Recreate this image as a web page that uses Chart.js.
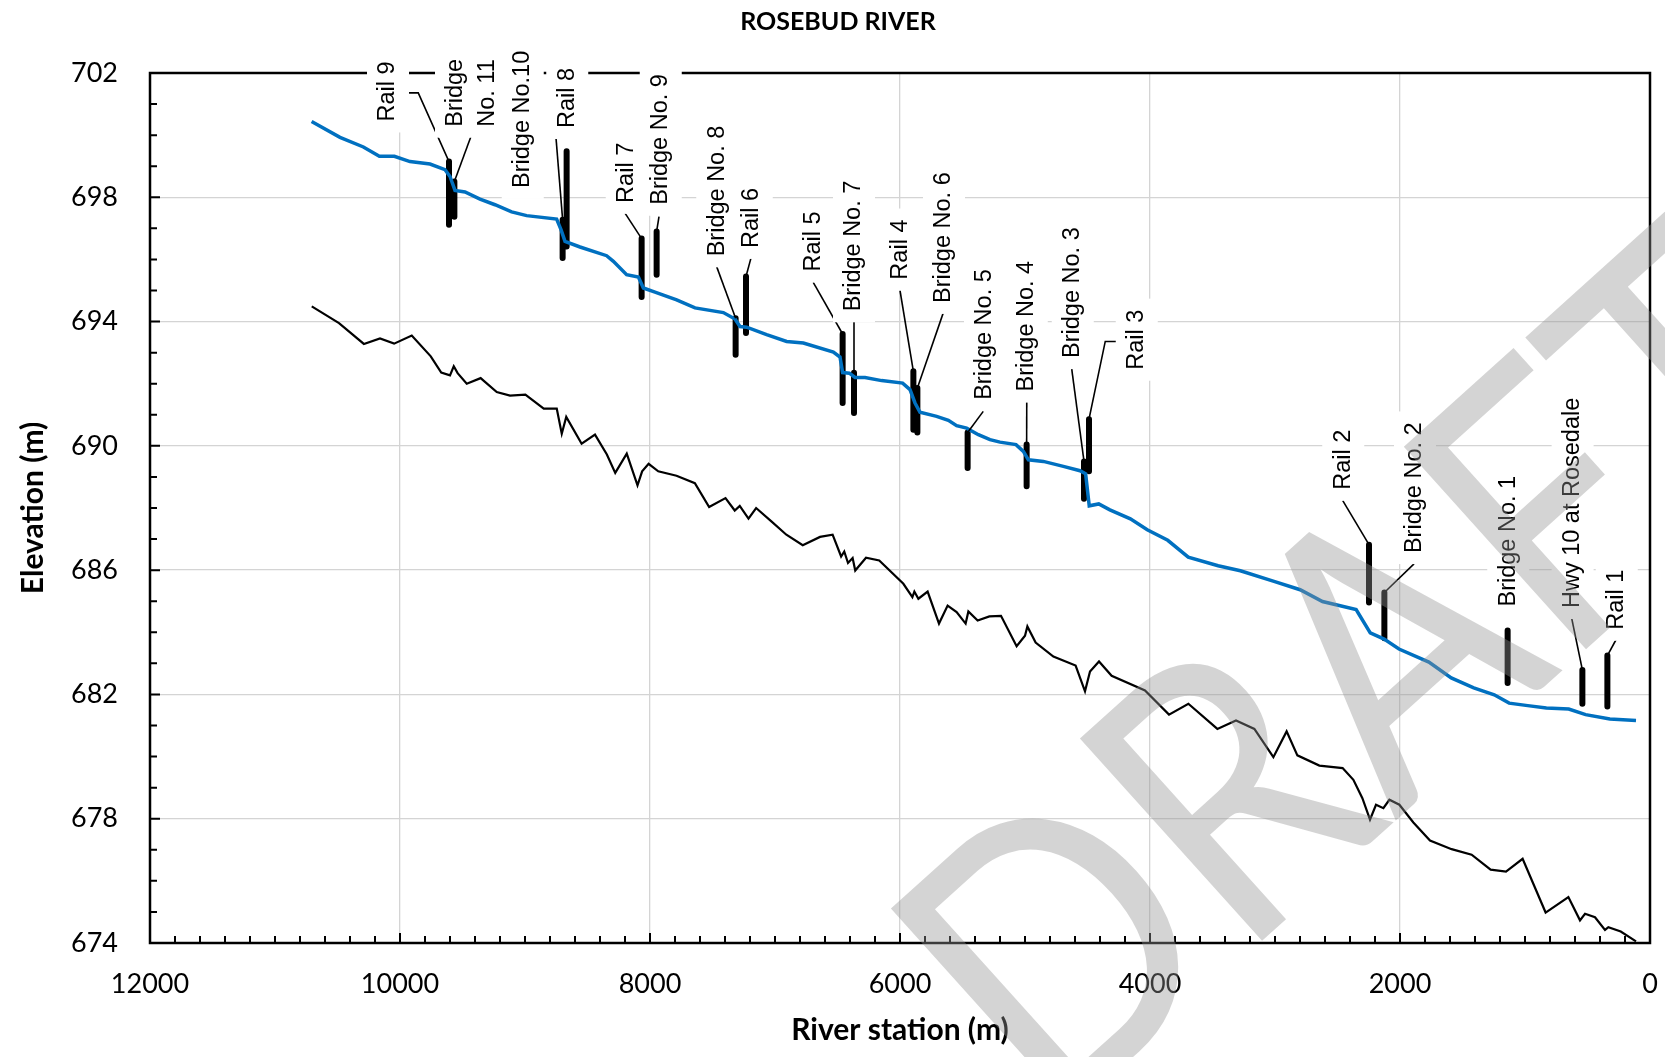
<!DOCTYPE html>
<html>
<head>
<meta charset="utf-8">
<script src="https://cdn.jsdelivr.net/npm/chart.js@4/dist/chart.umd.min.js"></script>
<style>
  html, body { margin: 0; padding: 0; background: #fff; }
  #wrap { width: 1665px; height: 1057px; }
</style>
</head>
<body>
<div id="wrap"><canvas id="profileChart" width="1665" height="1057"></canvas></div>
<script>
// water surface profile (river station m, elevation m)
const wsStation = [10707,10480,10293,10165,10045,9920,9760,9640,9600,9560,9480,9360,9240,9107,8987,8747,8712,8680,8560,8347,8293,8187,8093,8053,7960,7787,7640,7413,7320,7280,7227,7067,6907,6773,6533,6480,6459,6405,6360,6280,6147,5979,5920,5880,5840,5707,5613,5547,5467,5373,5280,5200,5072,5013,4973,4853,4693,4560,4515,4486,4410,4321,4157,4022,3858,3694,3455,3277,3008,2799,2620,2351,2238,2127,2008,1769,1590,1410,1246,1127,978,829,650,515,321,112];
const wsElev = [700.44,699.93,699.62,699.32,699.32,699.15,699.07,698.89,698.67,698.22,698.17,697.94,697.76,697.53,697.41,697.30,696.96,696.58,696.40,696.12,695.94,695.51,695.43,695.08,694.95,694.70,694.44,694.29,694.08,693.84,693.82,693.58,693.36,693.31,693.02,692.86,692.36,692.34,692.20,692.20,692.10,692.02,691.81,691.38,691.08,690.95,690.82,690.65,690.57,690.36,690.20,690.12,690.04,689.82,689.55,689.50,689.34,689.20,689.10,688.07,688.13,687.94,687.65,687.30,686.96,686.42,686.14,685.98,685.64,685.37,684.99,684.73,683.98,683.78,683.46,683.04,682.53,682.21,681.99,681.72,681.64,681.56,681.53,681.35,681.21,681.16];

// channel bed (thalweg)
const bedStation = [10706,10488,10289,10160,10047,9906,9754,9670,9600,9570,9539,9466,9355,9226,9120,8997,8850,8746,8706,8670,8547,8440,8345,8278,8186,8100,8063,8011,7934,7788,7641,7527,7396,7322,7282,7212,7151,7029,6909,6778,6640,6539,6471,6446,6416,6379,6358,6272,6166,5973,5901,5885,5853,5779,5688,5619,5547,5475,5453,5379,5285,5192,5067,5000,4981,4915,4773,4595,4520,4480,4408,4307,4040,3848,3693,3461,3312,3165,3013,2907,2821,2645,2459,2373,2301,2240,2192,2133,2085,2005,1893,1760,1587,1427,1275,1152,1019,835,653,560,520,440,360,333,234,112];
const bedElev = [694.49,693.95,693.28,693.46,693.29,693.55,692.88,692.36,692.27,692.56,692.34,692.00,692.18,691.73,691.62,691.65,691.20,691.20,690.39,690.93,690.07,690.36,689.72,689.13,689.75,688.73,689.18,689.42,689.18,689.04,688.80,688.03,688.32,687.92,688.07,687.66,688.00,687.57,687.14,686.80,687.07,687.14,686.44,686.60,686.23,686.39,685.99,686.40,686.31,685.56,685.13,685.31,685.08,685.31,684.28,684.86,684.65,684.28,684.67,684.38,684.51,684.53,683.55,683.89,684.19,683.67,683.22,682.93,682.10,682.74,683.06,682.60,682.13,681.35,681.70,680.89,681.16,680.89,679.98,680.81,680.04,679.71,679.63,679.25,678.66,677.97,678.45,678.34,678.61,678.45,677.88,677.30,677.02,676.84,676.36,676.30,676.71,674.98,675.48,674.73,674.94,674.83,674.42,674.51,674.37,674.05];

// crossings: name lines, station, bar bottom / top elevation
const structNames = [['Rail 9'],['Bridge','No. 11'],['Bridge No.10'],['Rail 8'],['Rail 7'],['Bridge No. 9'],['Bridge No. 8'],['Rail 6'],['Rail 5'],['Bridge No. 7'],['Rail 4'],['Bridge No. 6'],['Bridge No. 5'],['Bridge No. 4'],['Bridge No. 3'],['Rail 3'],['Rail 2'],['Bridge No. 2'],['Bridge No. 1'],['Hwy 10 at Rosedale'],['Rail 1']];
const structStation = [9608,9565,8667,8699,8067,7947,7315,7232,6459,6368,5893,5861,5459,4987,4528,4488,2248,2125,1139,541,341];
const structLow = [697.12,697.37,696.42,696.05,694.79,695.51,692.93,693.63,691.38,691.06,690.52,690.43,689.29,688.70,688.30,689.18,684.96,683.81,682.37,681.70,681.61];
const structHigh = [699.15,698.51,699.48,697.28,696.67,696.90,694.11,695.45,693.60,692.35,692.40,691.86,690.43,690.04,689.50,690.86,686.82,685.28,684.06,682.79,683.25];

// label anchors (station of label centre, elevation where text starts) and leader bends
const labelStation = [10096,9424,9018,8662,8186,7914,7462,7186,6688,6368,5994,5648,5320,4986,4618,4106,2454,1880,1134,619,266];
const labelElev = [700.44,700.27,698.30,700.23,697.82,697.76,696.10,696.37,695.61,694.33,695.35,694.60,691.48,691.75,692.83,692.45,688.59,686.55,684.83,684.78,684.08];
const leaderPts = [
  [[9936,701.36],[9854,701.36]], [[9434,699.94]], null, [[8752,699.91]], [[8200,697.49]],
  [[7928,697.38]], [[7466,695.76]], [[7192,696.05]], [[6694,695.26]], [[6368,694.0]],
  [[6000,695.0]], [[5654,694.28]], [[5334,691.11]], [[4986,691.40]], [[4626,692.47]],
  [[4272,693.36],[4358,693.36]], [[2458,688.24]], [[1888,686.20]], null, [[627,684.46]], [[272,683.76]]
];

const xTicks = [0,2000,4000,6000,8000,10000,12000];
const yTicks = [674,678,682,686,690,694,698,702];

function pts(xs, ys){
  return xs.map((x,i) => ({x: x, y: ys[i]}));
}

// bars as one dataset, broken with nulls
const barData = [];
for (let i = 0; i < structStation.length; i++){
  barData.push({x: structStation[i], y: structLow[i]});
  barData.push({x: structStation[i], y: structHigh[i]});
  barData.push({x: structStation[i], y: null});
}

const decorPlugin = {
  id: 'decor',
  afterDatasetsDraw(chart){
    const ctx = chart.ctx;
    const a = chart.chartArea;
    const xs = chart.scales.x, ys = chart.scales.y;
    ctx.save();
    // frame
    ctx.strokeStyle = '#000';
    ctx.lineWidth = 2.5;
    ctx.strokeRect(a.left, a.top, a.right - a.left, a.bottom - a.top);
    // inward tick marks
    ctx.lineWidth = 2;
    ctx.beginPath();
    for (let v = 200; v < 12000; v += 200){
      const px = xs.getPixelForValue(v);
      const len = v % 2000 === 0 ? 10 : 7;
      ctx.moveTo(px, a.bottom); ctx.lineTo(px, a.bottom - len);
    }
    for (let v = 675; v < 702; v++){
      const py = ys.getPixelForValue(v);
      const len = (v - 674) % 4 === 0 ? 10 : 7;
      ctx.moveTo(a.left, py); ctx.lineTo(a.left + len, py);
    }
    ctx.stroke();

    // leader lines
    ctx.lineWidth = 1.6;
    ctx.strokeStyle = '#000';
    for (let i = 0; i < structNames.length; i++){
      if (!leaderPts[i]) continue;
      ctx.beginPath();
      leaderPts[i].forEach((p, k) => {
        const px = xs.getPixelForValue(p[0]), py = ys.getPixelForValue(p[1]);
        if (k === 0) ctx.moveTo(px, py); else ctx.lineTo(px, py);
      });
      ctx.lineTo(xs.getPixelForValue(structStation[i]), ys.getPixelForValue(structHigh[i]));
      ctx.stroke();
    }

    // labels, rotated, on white boxes
    ctx.font = '23.5px "Liberation Sans", Arial, sans-serif';
    ctx.textBaseline = 'middle';
    ctx.textAlign = 'left';
    const lineH = 32;
    for (let i = 0; i < structNames.length; i++){
      const lines = structNames[i];
      const cx = xs.getPixelForValue(labelStation[i]);
      const by = ys.getPixelForValue(labelElev[i]);
      let w = 0;
      lines.forEach(t => { w = Math.max(w, ctx.measureText(t).width); });
      const half = 21 + (lines.length - 1) * lineH / 2;
      ctx.fillStyle = '#fff';
      ctx.fillRect(cx - half, by - w - 11, half * 2, w + 22);
      ctx.save();
      ctx.translate(cx, by);
      ctx.rotate(-Math.PI / 2);
      ctx.fillStyle = '#000';
      lines.forEach((t, k) => {
        ctx.fillText(t, 0, (k - (lines.length - 1) / 2) * lineH);
      });
      ctx.restore();
    }
    ctx.restore();
  },
  afterDraw(chart){
    const ctx = chart.ctx;
    ctx.save();
    ctx.fillStyle = '#000';
    ctx.font = 'bold 25px Lato, sans-serif';
    ctx.textAlign = 'center';
    ctx.textBaseline = 'middle';
    ctx.fillText('ROSEBUD RIVER', 838, 22);
    ctx.restore();

    // DRAFT watermark, top-left corner of the D at (887, 911)
    ctx.save();
    ctx.translate(887, 911);
    ctx.rotate(-42 * Math.PI / 180);
    ctx.scale(0.88, 1);
    ctx.font = '380px Lato, sans-serif';
    ctx.textAlign = 'left';
    ctx.textBaseline = 'alphabetic';
    const m = ctx.measureText('DRAFT');
    ctx.fillStyle = 'rgba(148,148,148,0.4)';
    ctx.fillText('DRAFT', m.actualBoundingBoxLeft, m.actualBoundingBoxAscent);
    ctx.restore();
  }
};

const ctx = document.getElementById('profileChart');
new Chart(ctx, {
  type: 'line',
  data: {
    datasets: [
      {
        label: 'Water surface',
        data: pts(wsStation, wsElev),
        borderColor: '#0070C0',
        borderWidth: 3.5,
        pointRadius: 0,
        tension: 0
      },
      {
        label: 'Structures',
        data: barData,
        borderColor: '#000',
        borderWidth: 6,
        borderCapStyle: 'round',
        pointRadius: 0,
        spanGaps: false
      },
      {
        label: 'Channel bed',
        data: pts(bedStation, bedElev),
        borderColor: '#000',
        borderWidth: 2.2,
        pointRadius: 0,
        tension: 0
      }
    ]
  },
  options: {
    responsive: false,
    animation: false,
    devicePixelRatio: 1,
    layout: { padding: { top: 73, right: 15, bottom: 0, left: 0 } },
    plugins: { legend: { display: false }, tooltip: { enabled: false } },
    scales: {
      x: {
        type: 'linear',
        reverse: true,
        min: 0,
        max: 12000,
        afterBuildTicks(scale){ scale.ticks = xTicks.map(v => ({value: v})); },
        ticks: {
          padding: 25,
          color: '#000',
          font: { family: 'Lato', size: 27 },
          callback: v => String(v),
          maxRotation: 0
        },
        grid: { color: '#d4d4d4', lineWidth: 1.3, drawTicks: false },
        border: { display: false },
        title: {
          display: true,
          text: 'River station (m)',
          color: '#000',
          font: { family: 'Lato', size: 30, weight: 'bold' },
          padding: 9
        },
        afterFit(scale){ scale.height = 114; }
      },
      y: {
        min: 674,
        max: 702,
        afterBuildTicks(scale){ scale.ticks = yTicks.map(v => ({value: v})); },
        ticks: {
          padding: 32,
          color: '#000',
          font: { family: 'Lato', size: 27 },
          callback: v => String(v)
        },
        grid: { color: '#d4d4d4', lineWidth: 1.3, drawTicks: false },
        border: { display: false },
        title: {
          display: true,
          text: 'Elevation (m)',
          color: '#000',
          font: { family: 'Lato', size: 30, weight: 'bold' },
          padding: 15
        },
        afterFit(scale){ scale.width = 150; }
      }
    }
  },
  plugins: [decorPlugin]
});
</script>
</body>
</html>
